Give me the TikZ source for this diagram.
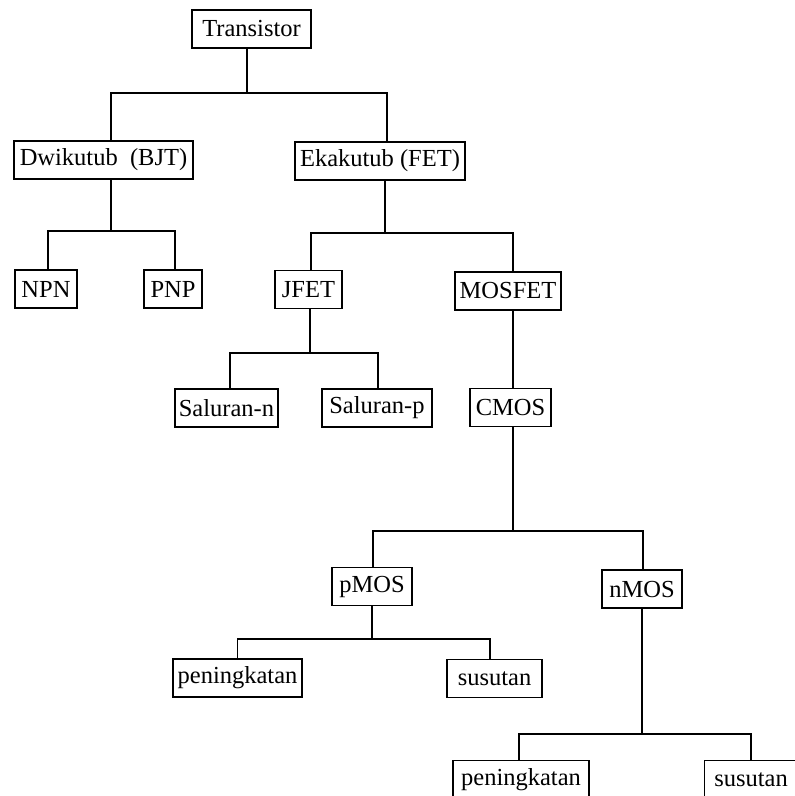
\documentclass[tikz,border=0pt]{standalone}
\usepackage{fontspec}
\setmainfont{Liberation Serif}
\begin{document}
\begin{tikzpicture}[x=1pt,y=-1pt,
  box/.style={draw, line width=1.7pt, minimum height=38pt, inner sep=1pt,
    font=\fontsize{24.5}{28}\selectfont},
  link/.style={line width=1.8pt}]
\useasboundingbox (0,0) rectangle (795,796);
% nodes
\node[box,minimum width=119pt] (T) at (251.5,29) {Transistor};
\node[box,minimum width=179pt] (D) at (103.5,160) {Dwikutub~~(BJT)};
\node[box,minimum width=170pt] (E) at (380,161) {Ekakutub (FET)};
\node[box,minimum width=62pt] (NPN) at (46,289) {NPN};
\node[box,minimum width=58pt] (PNP) at (173,289) {PNP};
\node[box,minimum width=67pt] (JFET) at (308.5,289.5) {JFET};
\node[box,minimum width=106pt] (MOSFET) at (508,291) {MOSFET};
\node[box,minimum width=103pt] (Sn) at (226.5,408) {Saluran-n};
\node[box,minimum width=110pt] (Sp) at (377,408) {Saluran-p};
\node[box,minimum width=81pt] (CMOS) at (510.5,407.5) {CMOS};
\node[box,minimum width=80pt] (pMOS) at (372,586.5) {pMOS};
\node[box,minimum width=80pt] (nMOS) at (642,589) {nMOS};
\node[box,minimum width=129pt] (pl) at (237.5,678) {peningkatan};
\node[box,minimum width=95pt] (sl) at (494.5,678.5) {susutan};
\node[box,minimum width=136pt] (pr) at (521,779.5) {peningkatan};
\node[box,minimum width=93pt] (sr) at (751,779.5) {susutan};
% connectors
\draw[link] ([xshift=-4.5pt]T.south) -- ++(0,44) coordinate (bT);
\draw[link] ([xshift=7.5pt]D.north) |- (bT) -| ([xshift=7pt]E.north);
\draw[link] ([xshift=7.5pt]D.south) -- ++(0,51) coordinate (bD);
\draw[link] ([xshift=2pt]NPN.north) |- (bD) -| ([xshift=2pt]PNP.north);
\draw[link] ([xshift=5pt]E.south) -- ++(0,52) coordinate (bE);
\draw[link] ([xshift=2.5pt]JFET.north) |- (bE) -| ([xshift=5pt]MOSFET.north);
\draw[link] ([xshift=1.5pt]JFET.south) -- ++(0,44) coordinate (bJ);
\draw[link] ([xshift=3.5pt]Sn.north) |- (bJ) -| ([xshift=1pt]Sp.north);
\draw[link] ([xshift=5pt]MOSFET.south) -- ([xshift=2.5pt]CMOS.north);
\draw[link] ([xshift=2.5pt]CMOS.south) -- ++(0,104) coordinate (bC);
\draw[link] ([xshift=1pt]pMOS.north) |- (bC) -| ([xshift=1pt]nMOS.north);
\draw[link] (pMOS.south) -- ++(0,33) coordinate (bP);
\draw[link] (pl.north) |- (bP) -| ([xshift=-4.5pt]sl.north);
\draw[link] (nMOS.south) -- ++(0,125) coordinate (bN);
\draw[link] ([xshift=-2pt]pr.north) |- (bN) -| (sr.north);
\end{tikzpicture}
\end{document}
